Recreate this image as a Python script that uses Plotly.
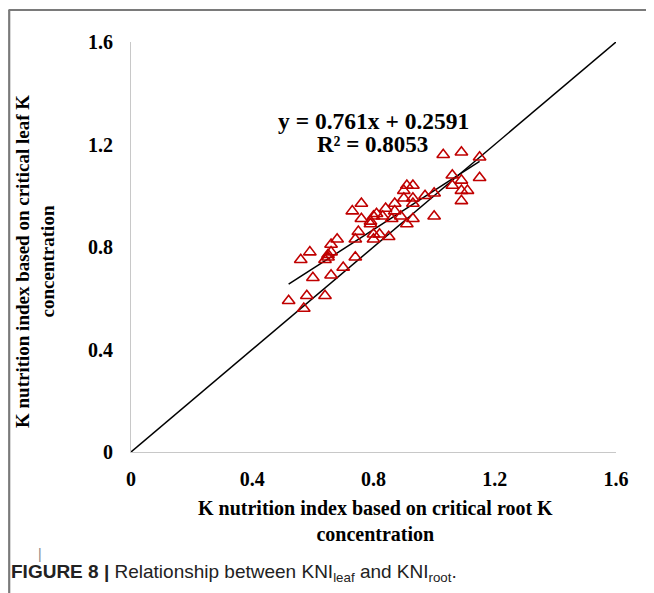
import plotly.graph_objects as go

# K nutrition index based on critical root K concentration (x) and leaf (y)
kni_root = [1.03, 1.09, 1.15, 1.06, 1.09, 1.15, 1.06, 1.09, 1.11, 1.09,
            1.00, 0.97, 1.00, 0.93, 0.91, 0.90, 0.90, 0.93, 0.93, 0.87,
            0.84, 0.87, 0.89, 0.93, 0.91, 0.86, 0.83, 0.81, 0.80, 0.79,
            0.79, 0.76, 0.73, 0.76, 0.75, 0.74, 0.80, 0.80, 0.82, 0.85,
            0.74, 0.68, 0.66, 0.66, 0.65, 0.64, 0.59, 0.56, 0.60, 0.66,
            0.70, 0.52, 0.58, 0.64, 0.57, 0.65]
kni_leaf = [1.16, 1.17, 1.15, 1.08, 1.06, 1.07, 1.04, 1.02, 1.02, 0.98,
            1.01, 1.00, 0.92, 1.04, 1.04, 1.02, 0.99, 0.99, 0.97, 0.97,
            0.95, 0.94, 0.92, 0.91, 0.89, 0.91, 0.92, 0.93, 0.92, 0.90,
            0.89, 0.97, 0.94, 0.91, 0.86, 0.83, 0.85, 0.83, 0.85, 0.84,
            0.76, 0.83, 0.81, 0.78, 0.76, 0.75, 0.78, 0.75, 0.68, 0.69,
            0.72, 0.59, 0.61, 0.61, 0.56, 0.77]

slope = 0.761
intercept = 0.2591
r2 = 0.8053

tick_vals = [0, 0.4, 0.8, 1.2, 1.6]
tick_text = ["<b>0</b>", "<b>0.4</b>", "<b>0.8</b>", "<b>1.2</b>", "<b>1.6</b>"]

x_title = "K nutrition index based on critical root K<br>concentration"
y_title = "K nutrition index based on critical leaf K<br>concentration"
caption = ("<b>FIGURE 8 |</b> Relationship between KNI<sub>leaf</sub> "
           "and KNI<sub>root</sub>.")

serif = "Liberation Serif"
OFF = 8  # page body margin
W, H = 646, 585
L, R, T, B = 123, 38, 34, 141
pw, ph = W - L - R, H - T - B


def px_x(p):
    return (p - OFF - L) / pw


def px_y(p):
    return (H - B - (p - OFF)) / ph


fig = go.Figure()

# 1:1 line
fig.add_trace(go.Scatter(x=[0, 1.6], y=[0, 1.6], mode="lines",
                         line=dict(color="black", width=1.5),
                         hoverinfo="skip", showlegend=False))
# trend line
xmin, xmax = min(kni_root), max(kni_root)
fig.add_trace(go.Scatter(x=[xmin, xmax],
                         y=[slope * xmin + intercept, slope * xmax + intercept],
                         mode="lines", line=dict(color="black", width=1.5),
                         hoverinfo="skip", showlegend=False))
# points
fig.add_trace(go.Scatter(x=kni_root, y=kni_leaf, mode="markers",
                         marker=dict(symbol="triangle-up-open", size=11,
                                     color="#c00000",
                                     line=dict(color="#c00000", width=1.6)),
                         showlegend=False))

axis_common = dict(range=[0, 1.6], tickvals=tick_vals, ticktext=tick_text,
                   showgrid=False, zeroline=False, showline=True,
                   linecolor="#c8c8c8", linewidth=1.2, ticks="",
                   tickfont=dict(family=serif, size=20, color="black"))

fig.update_layout(
    width=W, height=H, autosize=False,
    margin=dict(l=L, r=R, t=T, b=B, pad=0),
    paper_bgcolor="white", plot_bgcolor="white",
    xaxis=dict(**axis_common, ticklabelstandoff=9),
    yaxis=dict(**axis_common, ticklabelstandoff=13),
    font=dict(family=serif, color="black"),
)

# outer frame (left and top edges visible)
fig.add_shape(type="line", xref="paper", yref="paper",
              x0=px_x(9.2), x1=px_x(9.2), y0=px_y(700), y1=px_y(10),
              line=dict(color="#7a7a7a", width=2.2), layer="below")
fig.add_shape(type="line", xref="paper", yref="paper",
              x0=px_x(8.5), x1=px_x(700), y0=px_y(10), y1=px_y(10),
              line=dict(color="#7a7a7a", width=2.2), layer="below")

annotations = [
    dict(text="<b>y = 0.761x + 0.2591</b>", x=px_x(373), y=px_y(121), size=23.5),
    dict(text="<b>R² = 0.8053</b>", x=px_x(372), y=px_y(144), size=23),
    dict(text="<b>" + x_title + "</b>", x=px_x(375), y=px_y(521), size=20),
    dict(text="<b>" + y_title + "</b>", x=px_x(35), y=px_y(262), size=19,
         textangle=-90),
]
for a in annotations:
    size = a.pop("size")
    fig.add_annotation(xref="paper", yref="paper", showarrow=False,
                       xanchor="center", yanchor="middle",
                       font=dict(family=serif, size=size, color="black"),
                       **a)

fig.add_annotation(xref="paper", yref="paper", showarrow=False,
                   x=px_x(40), y=px_y(554), xanchor="center", yanchor="middle",
                   text="|", font=dict(family="Liberation Sans", size=14,
                                        color="#888888"))
fig.add_annotation(xref="paper", yref="paper", showarrow=False,
                   x=px_x(9), y=px_y(573), xanchor="left", yanchor="middle",
                   text=caption, font=dict(family="Liberation Sans", size=19,
                                           color="#222222"))

fig.write_html("out.html")
